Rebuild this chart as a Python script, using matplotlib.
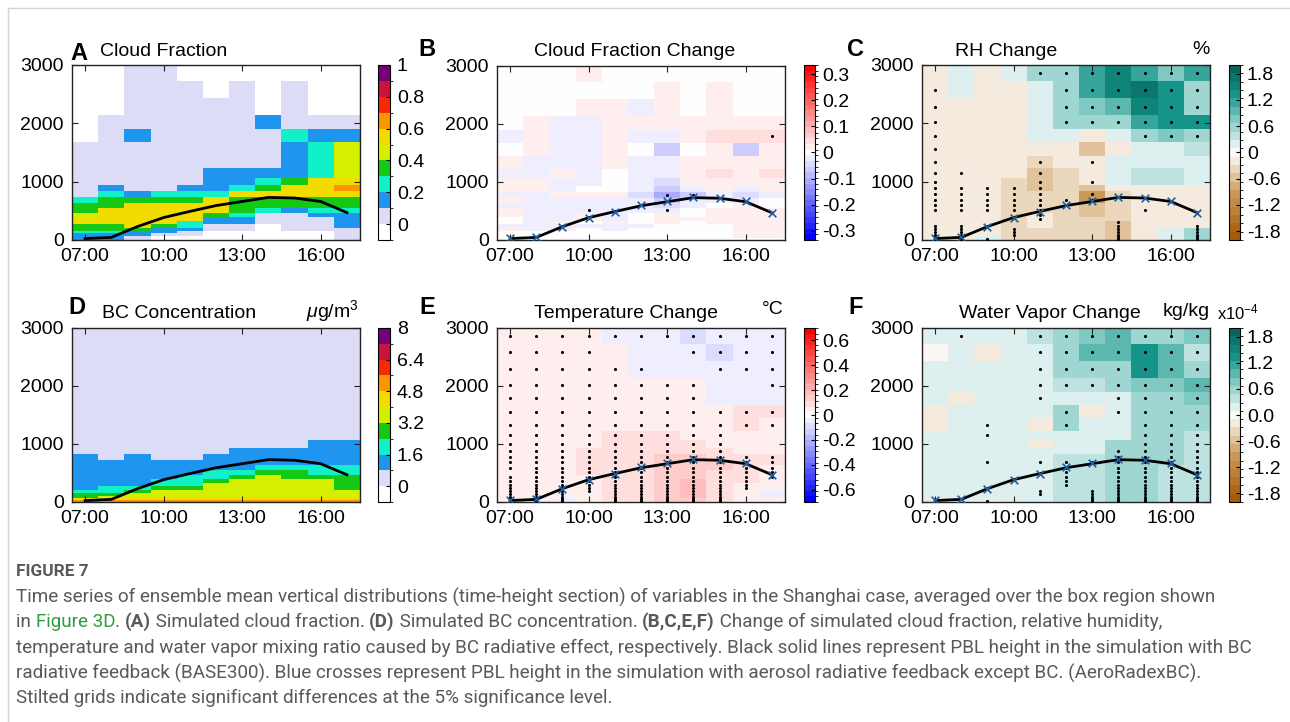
import numpy as np
import matplotlib
matplotlib.use("Agg")
import matplotlib.pyplot as plt
from matplotlib.colors import ListedColormap, BoundaryNorm, LinearSegmentedColormap
from matplotlib.font_manager import FontProperties
from matplotlib.lines import Line2D

plt.rcParams['font.family'] = ['Liberation Sans', 'DejaVu Sans']
plt.rcParams['mathtext.fontset'] = 'custom'
plt.rcParams['mathtext.rm'] = 'Liberation Sans'
plt.rcParams['mathtext.it'] = 'Liberation Sans:italic'

# ------------------------------------------------------------------ data
hours = [7, 8, 9, 10, 11, 12, 13, 14, 15, 16, 17]
xtick_hours = [7, 10, 13, 16]
xtick_labels = ["07:00", "10:00", "13:00", "16:00"]
height_edges = [0, 35, 70, 112, 160, 212, 270, 332, 400, 470, 550, 635, 731,
                832, 935, 1065, 1230, 1442, 1675, 1898, 2145, 2429, 2728, 3000]

pbl_base300 = [25, 45, 230, 385, 490, 590, 660, 730, 720, 660, 470]
pbl_aeroradexbc = [30, 50, 225, 380, 485, 595, 665, 735, 725, 665, 470]

cloud_fraction_bin = [
    "00110000000", "00111010100", "00111110100", "01111112111", "01211111322",
    "11111111235", "11111111235", "11111222235", "11111223466", "12112234667",
    "13233366666", "34444644444", "44666644444", "46666643233", "56666431122",
    "66666221112", "66663221112", "44643110112", "44422110111", "33221000001",
    "22211000001", "22100000001", "22100000001"]
bc_conc_bin = [
    "11111111111", "11111111111", "11111111111", "11111111111", "11111111111",
    "11111111111", "11111111111", "11111111111", "11111111122", "11111122222",
    "21211222222", "22222222222", "22222223333", "22222334433", "22223345444",
    "22233455554", "22233555554", "23344555554", "33455555555", "44555555555",
    "45555555555", "66666666666", "77777777777"]

# panel B: cloud fraction change (x0.01)
cf_change = [
    [0, 0, 0, 2, 0, 0, 0, 0, 0, 0, 0],
    [0, 0, 0, 0, 0, 0, 2, 0, 2, 0, 0],
    [0, 0, 0, 2, 2, -2, 2, 0, 2, 0, 0],
    [0, 2, -2, -2, 2, 2, 2, 2, 2, 2, 2],
    [-2, 2, -2, -2, 2, -2, -2, 2, 4, 4, 4],
    [0, 2, -2, -2, 2, 0, -6, 0, 2, -6, 2],
    [2, -2, -2, -2, 2, -2, -2, 2, 2, 2, 2],
    [-2, -2, 2, -2, 0, -2, -2, 2, 4, 2, 4],
    [2, 2, -2, -2, 0, -2, -4, 2, 2, 2, 2],
    [2, 2, -2, 0, 0, -2, -6, -2, 2, -2, 2],
    [-2, -2, 2, 2, 2, -4, -10, -6, -2, -4, -2],
    [2, -2, -2, -2, -2, -2, -6, -2, -2, -2, 0],
    [-2, -2, -2, -2, -2, -2, -4, -2, 0, 2, 0],
    [2, -2, -2, -2, -2, -2, -2, 0, 2, 2, 2],
    [2, -2, -2, 2, -2, 0, 2, 0, 2, 2, 2],
    [0, -2, -2, 2, -2, 0, 2, 2, 2, 2, 2],
    [0, -2, 2, 0, 2, 0, 2, 0, 2, 2, 2],
    [-2, -2, -2, -2, -2, -2, 0, 0, 0, 2, 2],
    [2, -2, 2, 0, -2, 0, 0, 0, 0, 2, 2],
    [0, 0, 0, 0, 0, 0, 0, 0, 0, 2, 2],
    [0, 0, 0, 0, 0, 0, 0, 0, 0, 2, 2],
    [0, 0, 0, 0, 0, 0, 0, 0, 0, 2, 2],
    [0, 0, 0, 0, 0, 0, 0, 0, 0, 0, 0]]

# panel C: RH change (x0.1 %)
rh_change = [
    [-1, 2, -1, 2, 6, 6, 12, 15, 12, 7, 12],
    [-1, 2, -1, -1, 2, 6, 12, 15, 17, 13, 6],
    [-1, -1, -1, -1, 2, 6, 8, 9, 16, 14, 6],
    [-1, -1, -1, -1, 2, 5, 6, 6, 12, 13, 13],
    [-1, -1, -1, -1, 2, 2, -1, 2, 6, 8, 5],
    [-1, -1, -1, -1, -1, -1, -5, -1, 2, 2, 4],
    [-1, -1, -1, -1, -3, -1, -1, 2, 2, 2, 2],
    [-1, -1, -1, -1, -5, -4, -1, 2, 4, 4, 2],
    [-1, -1, -1, -3, -5, -4, -1, 2, 4, 4, 2],
    [-1, -1, -1, -3, -5, -4, -5, -1, -1, -1, -1],
    [-1, -1, -1, -3, -4, -4, -10, -3, -1, -1, -1],
    [-1, -1, -1, -3, -4, -3, -10, -4, -1, -1, -1],
    [-1, -1, -1, -3, -3, -3, -5, -4, -1, -1, -1],
    [-1, -1, -1, -3, -3, -3, -5, -4, -1, -1, -1],
    [-1, -1, -1, -3, -2, -3, -5, -4, -1, -1, -1],
    [-1, -1, -1, -3, -2, -3, -4, -4, -1, -1, -1],
    [-1, -1, -1, -3, -2, -3, -3, -5, -1, -1, -1],
    [-1, -1, -1, -3, -2, -3, -3, -5, -1, -1, -1],
    [-1, -1, -1, -3, -3, -3, -3, -5, -1, 2, 5],
    [-1, -1, -1, -3, -3, -3, -3, -5, -1, 2, 5],
    [-1, -1, -1, -3, -3, -3, -3, -5, -1, 2, 5],
    [-1, -1, 2, -3, -3, -3, -3, -5, -1, 2, 5],
    [-1, -1, 2, -3, -3, -3, -3, -5, -1, 2, 5]]

# panel E: temperature change (x0.01 degC)
t_change = [
    [4, 4, 4, 4, -4, -4, -4, -9, -4, -4, -4],
    [4, 4, 4, 4, 4, -4, -4, -4, -9, -4, -4],
    [4, 4, 4, 4, 4, -4, -4, -4, -4, -4, -4],
    [4, 4, 4, 4, 4, 4, 4, 4, -4, -4, -4],
    [4, 4, 4, 4, 4, 4, 4, 4, -4, -4, -4],
    [4, 4, 4, 4, 4, 4, 4, 4, 4, 9, 9],
    [4, 4, 4, 4, 4, 4, 4, 4, 4, 9, 4],
    [4, 4, 4, 4, 9, 9, 9, 4, 4, 4, 4],
    [4, 4, 4, 4, 9, 9, 9, 9, 4, 4, 4],
    [4, 4, 4, 9, 9, 9, 9, 9, 9, 4, 4],
    [4, 4, 4, 9, 9, 9, 13, 13, 9, 9, 9],
    [4, 4, 4, 9, 9, 9, 13, 13, 13, 9, 9],
    [4, 4, 4, 9, 9, 9, 13, 13, 13, 9, 4],
    [4, 4, 4, 9, 9, 9, 13, 13, 9, 9, 4],
    [4, 4, 4, 4, 9, 9, 13, 13, 9, 9, 4],
    [4, 4, 4, 4, 9, 9, 13, 18, 9, 9, 4],
    [4, 4, 4, 4, 9, 9, 13, 18, 9, 4, 4],
    [4, 4, 4, 4, 9, 9, 13, 18, 9, 4, 4],
    [4, 4, 4, 4, 9, 9, 13, 18, 9, 4, -4],
    [4, 4, 4, 4, 9, 9, 13, 18, 9, 4, -4],
    [4, 4, 4, 4, 9, 9, 13, 18, 9, 4, -4],
    [4, 4, -4, 4, 9, 9, 13, 13, 9, 4, 4],
    [4, 4, -4, 4, 9, 9, 13, 13, 9, 4, 4]]

# panel F: water vapour change (x0.1, in units of 1e-4 kg/kg)
qv_change = [
    [2, 2, 2, 2, 4, 5, 8, 10, 6, 6, 8],
    [0, 2, -1, 2, 2, 5, 10, 9, 13, 9, 3],
    [2, 2, 2, 2, 2, 5, 6, 6, 13, 9, 6],
    [2, 2, 2, 2, 2, 4, 4, 5, 8, 7, 10],
    [2, -1, 2, 2, 2, 2, 2, 2, 6, 6, 7],
    [-1, 2, 2, 2, 2, 5, -1, 2, 5, 5, 6],
    [-1, 2, 2, 2, -1, 5, 2, 2, 6, 5, 5],
    [2, 2, 2, 2, 2, 2, 2, 2, 6, 5, 4],
    [2, 2, 2, 2, -1, 2, 2, 6, 6, 5, 4],
    [2, 2, 2, 2, 2, 2, 2, 6, 6, 5, 3],
    [2, 2, 2, 2, 2, 3, 3, 6, 6, 5, 3],
    [2, 2, 2, 2, 2, 3, 3, 5, 5, 5, 3],
    [2, 2, 2, 2, 2, 3, 4, 5, 5, 4, 4],
    [2, 2, 2, 2, 2, 3, 4, 5, 5, 4, 4],
    [2, 2, 2, 2, 2, 3, 4, 5, 5, 4, 4],
    [2, 2, 2, 2, 2, 3, 4, 5, 5, 4, 4],
    [2, 2, 2, 2, 2, 3, 4, 5, 5, 4, 4],
    [2, 2, 2, 2, 2, 3, 4, 5, 5, 4, 4],
    [2, 2, 2, 2, 2, 3, 4, 5, 5, 4, 4],
    [2, 2, 2, 2, 2, 3, 4, 5, 5, 4, 4],
    [2, 2, 2, 2, 2, 3, 4, 5, 5, 4, 4],
    [-1, 2, 2, 2, 2, 3, 4, 5, 5, 4, 4],
    [2, 2, -1, 2, 2, 3, 4, 5, 5, 4, 4]]

# significance masks (1 = significant), rows top -> bottom
sig_cf = [
    "00000000000", "00000000000", "00000000000", "00000000000", "00000000001",
    "00000000000", "00000000000", "00000000000", "00000000000", "00000000000",
    "00000011000", "00000000000", "00000000000", "00010010000", "00000000000",
    "00000000000", "00000000000", "00000000000", "00000000000", "00000000000",
    "00000000000", "00000000000", "00000000000"]
sig_rh = [
    "00001111111", "10000111111", "10000111111", "10000111111", "10000000111",
    "10000000000", "10001010000", "11001000000", "10001010000", "11111000000",
    "11111010000", "11111110000", "11111000000", "11111000100", "00001000000",
    "00001000000", "00000001000", "11000001001", "11010001001", "11010001001",
    "11010001001", "11000001001", "11100001001"]
sig_t = [
    "11111111111", "11110001111", "11111100111", "11111111001", "11111111000",
    "11111111111", "11111111111", "11111111100", "11111111100", "11111111100",
    "11111111111", "11111111111", "11111111111", "01111111111", "11111111111",
    "11111111110", "11111111110", "11111111110", "11111111100", "11101111100",
    "11101111100", "11101111100", "11101111100"]
sig_qv = [
    "01001111111", "00001111111", "00001111111", "00001111111", "00001001111",
    "00000101111", "00100100111", "00100000111", "00000000111", "00000001111",
    "00000001111", "00101111111", "00000101111", "00000101111", "00000101111",
    "00000101111", "00000101111", "00000001111", "00001011111", "00001011111",
    "00000011111", "00000011111", "00100011111"]

# ------------------------------------------------------------------ helpers
x_edges = np.arange(len(hours) + 1) + hours[0] - 0.5
y_edges = np.array(height_edges, float)
y_centers = 0.5 * (y_edges[:-1] + y_edges[1:])


def bins_to_values(rows, bounds):
    idx = np.array([[int(c, 16) for c in r] for r in rows[::-1]])
    return 0.5 * (bounds[idx] + bounds[idx + 1])


def num_rows(rows, scale):
    return np.array(rows[::-1], float) * scale


def mask_rows(rows):
    return np.array([[c == '1' for c in r] for r in rows[::-1]])


W, H = 1290, 722
fig = plt.figure(figsize=(W / 100, H / 100), dpi=100)
fig.patch.set_facecolor('white')


def rect(l, t, r, b):
    return [l / W, 1 - b / H, (r - l) / W, (b - t) / H]


def ftext(x, y, s, **kw):
    return fig.text(x / W, 1 - y / H, s, **kw)


jet_like = ListedColormap(['#ffffff', '#dcdcf6', '#1e96f0', '#12f0c8', '#14c814',
                           '#d4f000', '#f2dc00', '#fa9600', '#fa2800', '#c8143c', '#780078'])
bwr_m = LinearSegmentedColormap.from_list('bwr_m', ['#0000ff', '#ffffff', '#ff0000'])
brtl = LinearSegmentedColormap.from_list('brtl', [
    (0.0, '#a85c08'), (0.25, '#c99858'), (0.35, '#e0c29c'), (0.4, '#ebd7bd'),
    (0.45, '#f5ece0'), (0.5, '#fbf8f4'), (0.55, '#dcefef'), (0.7, '#7fc8c1'),
    (0.85, '#139488'), (1.0, '#07665c')])

bounds_cf = np.linspace(-0.1, 1.0, 12)
bounds_bc = np.linspace(-0.8, 8.0, 12)


def panel(axr, caxr, data, cmap, norm, cticks, clabels, sig=None, crosses=True):
    ax = fig.add_axes(rect(*axr))
    m = ax.pcolormesh(x_edges, y_edges, data, cmap=cmap, norm=norm,
                      shading='flat', edgecolors='none', linewidth=0)
    if sig is not None:
        yy, xx = np.nonzero(sig)
        ax.scatter(np.array(hours)[xx], y_centers[yy], s=5, c='k', lw=0, zorder=3)
    ax.plot(hours, pbl_base300, color='k', lw=2, zorder=4)
    if crosses:
        ax.scatter(hours, pbl_aeroradexbc, marker='x', s=30, c='#1f5c99',
                   linewidths=1.2, zorder=5)
    ax.set_xlim(x_edges[0], x_edges[-1])
    ax.set_ylim(0, 3000)
    ax.set_xticks(xtick_hours, xtick_labels)
    ax.set_yticks([0, 1000, 2000, 3000])
    ax.tick_params(direction='in', top=True, right=True, length=4, width=0.8,
                   labelsize=14, pad=6, colors='#222222', labelcolor='black')
    for s in ax.spines.values():
        s.set_linewidth(1.0)
        s.set_color('#222222')
    cax = fig.add_axes(rect(*caxr))
    cb = fig.colorbar(m, cax=cax, ticks=cticks)
    cb.set_ticklabels(clabels)
    cax.tick_params(direction='in', length=3, width=0.8, labelsize=14, pad=5)
    cb.outline.set_linewidth(0.8)
    return ax


# A
panel((72, 65, 360, 240), (378, 65, 390, 240),
      bins_to_values(cloud_fraction_bin, bounds_cf), jet_like,
      BoundaryNorm(bounds_cf, jet_like.N),
      [0, 0.2, 0.4, 0.6, 0.8, 1.0], ['0', '0.2', '0.4', '0.6', '0.8', '1'],
      crosses=False)
# B
panel((497, 66, 785, 240), (804, 65, 815, 240),
      num_rows(cf_change, 0.01), bwr_m,
      BoundaryNorm(np.linspace(-0.335, 0.335, 32), bwr_m.N),
      [-0.3, -0.2, -0.1, 0, 0.1, 0.2, 0.3],
      ['-0.3', '-0.2', '-0.1', '0', '0.1', '0.2', '0.3'], sig=mask_rows(sig_cf))
# C
panel((922, 65, 1210, 240), (1229, 65, 1240, 240),
      num_rows(rh_change, 0.1), brtl,
      BoundaryNorm(np.linspace(-2, 2, 22), brtl.N),
      [-1.8, -1.2, -0.6, 0, 0.6, 1.2, 1.8],
      ['-1.8', '-1.2', '-0.6', '0', '0.6', '1.2', '1.8'], sig=mask_rows(sig_rh))
# D
panel((72, 328, 360, 502), (378, 328, 390, 502),
      bins_to_values(bc_conc_bin, bounds_bc), jet_like,
      BoundaryNorm(bounds_bc, jet_like.N),
      [0, 1.6, 3.2, 4.8, 6.4, 8.0], ['0', '1.6', '3.2', '4.8', '6.4', '8'],
      crosses=False)
# E
panel((497, 328, 785, 502), (804, 328, 815, 502),
      num_rows(t_change, 0.01), bwr_m,
      BoundaryNorm(np.linspace(-0.7, 0.7, 32), bwr_m.N),
      [-0.6, -0.4, -0.2, 0, 0.2, 0.4, 0.6],
      ['-0.6', '-0.4', '-0.2', '0', '0.2', '0.4', '0.6'], sig=mask_rows(sig_t))
# F
panel((922, 328, 1210, 502), (1229, 328, 1240, 502),
      num_rows(qv_change, 0.1), brtl,
      BoundaryNorm(np.linspace(-2, 2, 22), brtl.N),
      [-1.8, -1.2, -0.6, 0, 0.6, 1.2, 1.8],
      ['-1.8', '-1.2', '-0.6', '0.0', '0.6', '1.2', '1.8'], sig=mask_rows(sig_qv))

# titles / labels
TS = 14
LS = 17
ftext(70, 53, 'A', fontsize=LS, fontweight='bold', va='center', ha='left')
ftext(100, 52, 'Cloud Fraction', fontsize=TS, va='center', ha='left')
ftext(418, 50, 'B', fontsize=LS, fontweight='bold', va='center', ha='left')
ftext(635, 52, 'Cloud Fraction Change', fontsize=TS, va='center', ha='center')
ftext(847, 50, 'C', fontsize=LS, fontweight='bold', va='center', ha='left')
ftext(1006, 52, 'RH Change', fontsize=TS, va='center', ha='center')
ftext(1210, 50, '%', fontsize=TS, va='center', ha='right')

ftext(68, 308, 'D', fontsize=LS, fontweight='bold', va='center', ha='left')
ftext(102, 313, 'BC Concentration', fontsize=TS, va='center', ha='left')
ftext(359, 311, r'$\mu$g/m$^3$', fontsize=TS, va='center', ha='right')
ftext(419, 308, 'E', fontsize=LS, fontweight='bold', va='center', ha='left')
ftext(626, 313, 'Temperature Change', fontsize=TS, va='center', ha='center')
ftext(784, 310, '°C', fontsize=TS, va='center', ha='right')
ftext(848, 308, 'F', fontsize=LS, fontweight='bold', va='center', ha='left')
ftext(1050, 313, 'Water Vapor Change', fontsize=TS, va='center', ha='center')
ftext(1210, 311, 'kg/kg', fontsize=TS, va='center', ha='right')
ftext(1217, 312, r'x10$^{-4}$', fontsize=12, va='center', ha='left')

# frame lines
fig.add_artist(Line2D([8 / W, 1], [1 - 8 / H, 1 - 8 / H], color='#d4d4d4', lw=1))
fig.add_artist(Line2D([8 / W, 8 / W], [0, 1 - 8 / H], color='#d4d4d4', lw=1))

# caption
renderer = fig.canvas.get_renderer()
cap_family = ['Liberation Sans Narrow', 'Roboto', 'DejaVu Sans']


def text_width(s, fp):
    w1, _, _ = renderer.get_text_width_height_descent('|' + s + '|', fp, ismath=False)
    w2, _, _ = renderer.get_text_width_height_descent('||', fp, ismath=False)
    return w1 - w2


line1 = ("Time series of ensemble mean vertical distributions (time-height section) of "
         "variables in the Shanghai case, averaged over the box region shown")
fp10 = FontProperties(family=cap_family, size=10)
cap_size = 10 * 1206 / text_width(line1, fp10)
fpb10 = FontProperties(family=cap_family, size=10, weight='bold')
fig_size = 10 * 72 / text_width('FIGURE 7', fpb10)

CAP = '#595959'
GREEN = '#2e9e3e'


def rich_line(x, y, pieces, size):
    for s, weight, color in pieces:
        fp = FontProperties(family=cap_family, size=size, weight=weight)
        ftext(x, y, s, fontproperties=fp, color=color, va='center', ha='left')
        x += text_width(s, fp)


rich_line(16, 572, [('FIGURE 7', 'bold', CAP)], fig_size)
rich_line(16, 597, [(line1, 'normal', CAP)], cap_size)
rich_line(16, 622, [('in ', 'normal', CAP), ('Figure 3D', 'normal', GREEN),
                    ('. ', 'normal', CAP), ('(A)', 'bold', CAP),
                    (' Simulated cloud fraction. ', 'normal', CAP), ('(D)', 'bold', CAP),
                    (' Simulated BC concentration. ', 'normal', CAP),
                    ('(B,C,E,F)', 'bold', CAP),
                    (' Change of simulated cloud fraction, relative humidity,', 'normal', CAP)],
          cap_size)
rich_line(16, 648, [("temperature and water vapor mixing ratio caused by BC radiative effect, "
                     "respectively. Black solid lines represent PBL height in the simulation "
                     "with BC", 'normal', CAP)], cap_size)
rich_line(16, 673, [("radiative feedback (BASE300). Blue crosses represent PBL height in the "
                     "simulation with aerosol radiative feedback except BC. (AeroRadexBC).",
                     'normal', CAP)], cap_size)
rich_line(16, 698, [("Stilted grids indicate significant differences at the 5% significance "
                     "level.", 'normal', CAP)], cap_size)

fig.savefig('out.png', dpi=100, facecolor='white')
